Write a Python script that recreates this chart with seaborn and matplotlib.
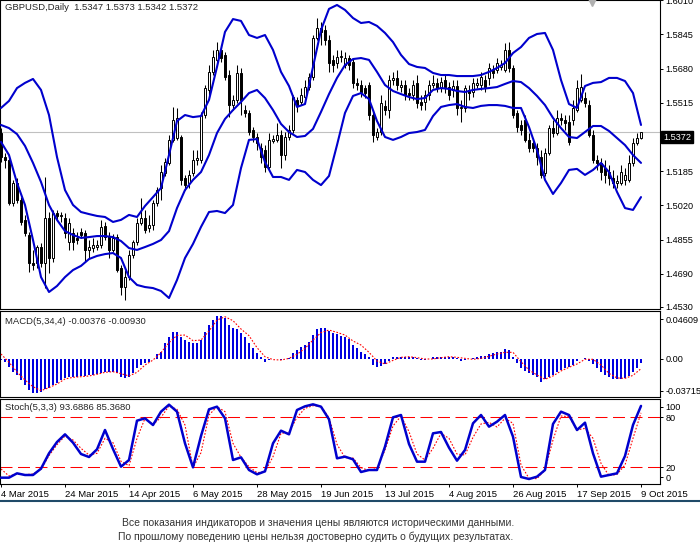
import numpy as np
import matplotlib
matplotlib.use('Agg')
import matplotlib.pyplot as plt
from matplotlib.lines import Line2D
import seaborn as sns

sns.set_style('white')
plt.rcParams['font.family'] = ['Liberation Sans', 'DejaVu Sans']

# ---- GBPUSD daily candles ----
opens = [1.5369, 1.5253, 1.5239, 1.5032, 1.5128, 1.5046, 1.4950, 1.4877, 1.4742, 1.4742,
         1.4819, 1.4742, 1.4959, 1.4766, 1.4983, 1.4969, 1.4959, 1.4843, 1.4887, 1.4863,
         1.4892, 1.4887, 1.4805, 1.4814, 1.4819, 1.4829, 1.4921, 1.4872, 1.4805, 1.4867,
         1.4718, 1.4626, 1.4674, 1.4781, 1.4843, 1.4935, 1.4959, 1.4911, 1.4925, 1.5032,
         1.5104, 1.5176, 1.5225, 1.5336, 1.5345, 1.5350, 1.5152, 1.5128, 1.5176, 1.5239,
         1.5239, 1.5456, 1.5577, 1.5664, 1.5722, 1.5770, 1.5746, 1.5649, 1.5504, 1.5529,
         1.5659, 1.5480, 1.5466, 1.5384, 1.5350, 1.5297, 1.5287, 1.5205, 1.5331, 1.5336,
         1.5360, 1.5263, 1.5350, 1.5384, 1.5529, 1.5519, 1.5543, 1.5591, 1.5639, 1.5828,
         1.5876, 1.5866, 1.5818, 1.5722, 1.5707, 1.5736, 1.5697, 1.5731, 1.5712, 1.5611,
         1.5601, 1.5586, 1.5601, 1.5456, 1.5350, 1.5374, 1.5500, 1.5480, 1.5625, 1.5635,
         1.5591, 1.5601, 1.5562, 1.5553, 1.5611, 1.5519, 1.5519, 1.5553, 1.5601, 1.5611,
         1.5586, 1.5625, 1.5591, 1.5577, 1.5596, 1.5490, 1.5490, 1.5577, 1.5567, 1.5601,
         1.5601, 1.5625, 1.5635, 1.5673, 1.5673, 1.5688, 1.5673, 1.5770, 1.5683, 1.5466,
         1.5408, 1.5432, 1.5336, 1.5321, 1.5297, 1.5253, 1.5176, 1.5273, 1.5393, 1.5369,
         1.5442, 1.5432, 1.5422, 1.5432, 1.5480, 1.5529, 1.5538, 1.5504, 1.5360, 1.5239,
         1.5225, 1.5200, 1.5181, 1.5152, 1.5128, 1.5128, 1.5143, 1.5143, 1.5225, 1.5321,
         1.5347]
highs = [1.5393, 1.5273, 1.5249, 1.5143, 1.5152, 1.5060, 1.4974, 1.4892, 1.4805, 1.4829,
         1.4839, 1.5157, 1.4988, 1.4998, 1.4998, 1.4988, 1.4983, 1.4959, 1.4911, 1.4892,
         1.4911, 1.4901, 1.4853, 1.4863, 1.4853, 1.4950, 1.4940, 1.4892, 1.4882, 1.4882,
         1.4732, 1.4708, 1.4805, 1.4853, 1.4959, 1.5056, 1.4998, 1.4974, 1.5046, 1.5109,
         1.5215, 1.5249, 1.5360, 1.5495, 1.5490, 1.5360, 1.5167, 1.5191, 1.5287, 1.5287,
         1.5471, 1.5601, 1.5697, 1.5770, 1.5808, 1.5794, 1.5760, 1.5673, 1.5553, 1.5697,
         1.5683, 1.5504, 1.5480, 1.5398, 1.5369, 1.5321, 1.5311, 1.5369, 1.5360, 1.5418,
         1.5384, 1.5374, 1.5408, 1.5553, 1.5543, 1.5586, 1.5625, 1.5659, 1.5842, 1.5924,
         1.5905, 1.5890, 1.5842, 1.5746, 1.5770, 1.5770, 1.5760, 1.5746, 1.5731, 1.5635,
         1.5625, 1.5601, 1.5615, 1.5480, 1.5393, 1.5553, 1.5529, 1.5649, 1.5664, 1.5673,
         1.5625, 1.5625, 1.5586, 1.5625, 1.5649, 1.5553, 1.5577, 1.5625, 1.5649, 1.5635,
         1.5639, 1.5649, 1.5615, 1.5625, 1.5625, 1.5529, 1.5601, 1.5601, 1.5635, 1.5635,
         1.5664, 1.5649, 1.5707, 1.5697, 1.5731, 1.5722, 1.5804, 1.5808, 1.5697, 1.5480,
         1.5432, 1.5456, 1.5369, 1.5345, 1.5321, 1.5287, 1.5297, 1.5408, 1.5432, 1.5480,
         1.5466, 1.5456, 1.5456, 1.5529, 1.5625, 1.5654, 1.5567, 1.5529, 1.5384, 1.5263,
         1.5249, 1.5239, 1.5215, 1.5191, 1.5167, 1.5215, 1.5200, 1.5263, 1.5345, 1.5369,
         1.5373]
lows = [1.5229, 1.5200, 1.5022, 1.5017, 1.5032, 1.4925, 1.4872, 1.4699, 1.4708, 1.4718,
        1.4723, 1.4621, 1.4694, 1.4747, 1.4950, 1.4940, 1.4863, 1.4805, 1.4805, 1.4834,
        1.4863, 1.4747, 1.4766, 1.4795, 1.4805, 1.4814, 1.4853, 1.4766, 1.4795, 1.4699,
        1.4588, 1.4564, 1.4660, 1.4766, 1.4829, 1.4925, 1.4887, 1.4892, 1.4901, 1.5017,
        1.5046, 1.5162, 1.5215, 1.5326, 1.5336, 1.5118, 1.5094, 1.5104, 1.5162, 1.5215,
        1.5225, 1.5442, 1.5553, 1.5649, 1.5712, 1.5712, 1.5625, 1.5446, 1.5480, 1.5514,
        1.5456, 1.5446, 1.5360, 1.5326, 1.5287, 1.5225, 1.5181, 1.5191, 1.5321, 1.5326,
        1.5200, 1.5239, 1.5336, 1.5369, 1.5471, 1.5504, 1.5529, 1.5577, 1.5625, 1.5818,
        1.5794, 1.5794, 1.5664, 1.5664, 1.5683, 1.5712, 1.5683, 1.5673, 1.5586, 1.5577,
        1.5543, 1.5538, 1.5432, 1.5326, 1.5336, 1.5360, 1.5456, 1.5442, 1.5601, 1.5577,
        1.5567, 1.5529, 1.5529, 1.5529, 1.5490, 1.5480, 1.5480, 1.5529, 1.5586, 1.5567,
        1.5567, 1.5562, 1.5529, 1.5543, 1.5456, 1.5422, 1.5471, 1.5529, 1.5543, 1.5586,
        1.5577, 1.5567, 1.5601, 1.5635, 1.5659, 1.5673, 1.5664, 1.5664, 1.5442, 1.5374,
        1.5360, 1.5326, 1.5278, 1.5278, 1.5215, 1.5152, 1.5162, 1.5263, 1.5350, 1.5360,
        1.5408, 1.5384, 1.5311, 1.5408, 1.5471, 1.5519, 1.5495, 1.5350, 1.5225, 1.5191,
        1.5143, 1.5128, 1.5118, 1.5104, 1.5104, 1.5118, 1.5118, 1.5133, 1.5210, 1.5311,
        1.5342]
closes = [1.5253, 1.5239, 1.5032, 1.5128, 1.5046, 1.4940, 1.4887, 1.4742, 1.4732, 1.4819,
          1.4742, 1.4959, 1.4766, 1.4983, 1.4969, 1.4974, 1.4887, 1.4935, 1.4843, 1.4853,
          1.4877, 1.4805, 1.4819, 1.4829, 1.4829, 1.4916, 1.4867, 1.4805, 1.4863, 1.4708,
          1.4626, 1.4674, 1.4781, 1.4843, 1.4935, 1.4959, 1.4901, 1.4925, 1.5032, 1.5094,
          1.5181, 1.5229, 1.5336, 1.5432, 1.5442, 1.5143, 1.5118, 1.5167, 1.5239, 1.5249,
          1.5456, 1.5586, 1.5664, 1.5736, 1.5770, 1.5731, 1.5639, 1.5504, 1.5529, 1.5659,
          1.5529, 1.5466, 1.5374, 1.5350, 1.5321, 1.5253, 1.5205, 1.5336, 1.5340, 1.5360,
          1.5263, 1.5350, 1.5384, 1.5543, 1.5504, 1.5553, 1.5591, 1.5639, 1.5828, 1.5876,
          1.5857, 1.5818, 1.5707, 1.5697, 1.5736, 1.5741, 1.5731, 1.5697, 1.5611, 1.5601,
          1.5567, 1.5562, 1.5456, 1.5360, 1.5374, 1.5514, 1.5480, 1.5625, 1.5635, 1.5601,
          1.5601, 1.5553, 1.5553, 1.5601, 1.5514, 1.5504, 1.5553, 1.5601, 1.5611, 1.5586,
          1.5615, 1.5591, 1.5553, 1.5596, 1.5490, 1.5495, 1.5586, 1.5562, 1.5611, 1.5611,
          1.5639, 1.5591, 1.5683, 1.5659, 1.5707, 1.5697, 1.5770, 1.5683, 1.5456, 1.5398,
          1.5384, 1.5336, 1.5297, 1.5297, 1.5253, 1.5167, 1.5273, 1.5393, 1.5369, 1.5442,
          1.5432, 1.5418, 1.5326, 1.5490, 1.5586, 1.5591, 1.5514, 1.5360, 1.5239, 1.5225,
          1.5181, 1.5167, 1.5152, 1.5128, 1.5138, 1.5181, 1.5167, 1.5225, 1.5321, 1.5345,
          1.5372]

# Bollinger bands, read every second bar
bb_upper = [1.5490, 1.5524, 1.5586, 1.5611, 1.5630, 1.5577, 1.5456, 1.5253, 1.5094, 1.5022,
            1.4988, 1.4978, 1.4969, 1.4964, 1.4940, 1.4950, 1.4974, 1.4964, 1.5017, 1.5060,
            1.5104, 1.5263, 1.5427, 1.5456, 1.5446, 1.5451, 1.5529, 1.5688, 1.5857, 1.5919,
            1.5910, 1.5842, 1.5828, 1.5842, 1.5770, 1.5664, 1.5596, 1.5495, 1.5509, 1.5688,
            1.5866, 1.5968, 1.5987, 1.5963, 1.5924, 1.5900, 1.5905, 1.5886, 1.5852, 1.5808,
            1.5746, 1.5702, 1.5688, 1.5683, 1.5659, 1.5649, 1.5649, 1.5644, 1.5644, 1.5644,
            1.5649, 1.5664, 1.5683, 1.5707, 1.5755, 1.5784, 1.5828, 1.5847, 1.5852, 1.5770,
            1.5625, 1.5509, 1.5490, 1.5596, 1.5611, 1.5615, 1.5635, 1.5635, 1.5620, 1.5562,
            1.5408]
bb_middle = [1.5408, 1.5393, 1.5364, 1.5307, 1.5225, 1.5133, 1.5022, 1.4950, 1.4896, 1.4877,
             1.4863, 1.4867, 1.4872, 1.4872, 1.4867, 1.4848, 1.4814, 1.4805, 1.4819, 1.4834,
             1.4853, 1.4896, 1.5007, 1.5094, 1.5143, 1.5181, 1.5263, 1.5369, 1.5437, 1.5480,
             1.5519, 1.5562, 1.5577, 1.5538, 1.5480, 1.5413, 1.5374, 1.5350, 1.5355, 1.5389,
             1.5471, 1.5557, 1.5635, 1.5697, 1.5726, 1.5731, 1.5722, 1.5664, 1.5601, 1.5572,
             1.5557, 1.5543, 1.5533, 1.5538, 1.5577, 1.5586, 1.5582, 1.5572, 1.5567, 1.5577,
             1.5582, 1.5586, 1.5591, 1.5606, 1.5620, 1.5615, 1.5586, 1.5548, 1.5504, 1.5442,
             1.5393, 1.5350, 1.5345, 1.5374, 1.5403, 1.5403, 1.5379, 1.5345, 1.5311, 1.5263,
             1.5225]
bb_lower = [1.5326, 1.5263, 1.5128, 1.5022, 1.4853, 1.4674, 1.4602, 1.4631, 1.4674, 1.4708,
            1.4728, 1.4761, 1.4776, 1.4785, 1.4790, 1.4766, 1.4674, 1.4636, 1.4626, 1.4621,
            1.4607, 1.4573, 1.4660, 1.4766, 1.4834, 1.4916, 1.4988, 1.4993, 1.4983, 1.5022,
            1.5200, 1.5336, 1.5340, 1.5229, 1.5157, 1.5157, 1.5143, 1.5191, 1.5181, 1.5143,
            1.5118, 1.5162, 1.5311, 1.5466, 1.5548, 1.5562, 1.5533, 1.5427, 1.5350, 1.5336,
            1.5350, 1.5369, 1.5374, 1.5384, 1.5451, 1.5495, 1.5504, 1.5509, 1.5495, 1.5490,
            1.5500, 1.5504, 1.5504, 1.5500, 1.5490, 1.5490, 1.5398, 1.5287, 1.5143, 1.5075,
            1.5128, 1.5191, 1.5196, 1.5167, 1.5191, 1.5225, 1.5181, 1.5085, 1.5007, 1.4998,
            1.5060]

# MACD(5,34,4)
macd_hist = [-0.0008, -0.0026, -0.0074, -0.0122, -0.0154, -0.0202, -0.0250, -0.0298, -0.0323, -0.0330,
             -0.0314, -0.0291, -0.0282, -0.0250, -0.0227, -0.0202, -0.0186, -0.0176, -0.0170, -0.0170,
             -0.0163, -0.0163, -0.0154, -0.0154, -0.0144, -0.0131, -0.0122, -0.0122, -0.0122, -0.0131,
             -0.0170, -0.0186, -0.0170, -0.0131, -0.0090, -0.0058, -0.0042, -0.0026, -0.0003, 0.0048,
             0.0070, 0.0150, 0.0214, 0.0262, 0.0262, 0.0214, 0.0182, 0.0166, 0.0157, 0.0157,
             0.0182, 0.0262, 0.0326, 0.0374, 0.0413, 0.0413, 0.0390, 0.0326, 0.0294, 0.0285,
             0.0246, 0.0214, 0.0150, 0.0102, 0.0054, 0.0022, -0.0026, -0.0010, 0.0003, -0.0003,
             -0.0010, 0.0002, 0.0006, 0.0054, 0.0086, 0.0112, 0.0134, 0.0166, 0.0230, 0.0285,
             0.0294, 0.0294, 0.0272, 0.0253, 0.0240, 0.0221, 0.0208, 0.0189, 0.0134, 0.0102,
             0.0070, 0.0048, 0.0022, -0.0058, -0.0074, -0.0064, -0.0048, -0.0019, 0.0016, 0.0022,
             0.0022, 0.0016, 0.0016, 0.0016, 0.0006, -0.0010, -0.0010, 0.0003, 0.0016, 0.0022,
             0.0022, 0.0022, 0.0016, 0.0016, 0.0006, -0.0016, -0.0010, -0.0003, 0.0006, 0.0016,
             0.0032, 0.0029, 0.0048, 0.0061, 0.0064, 0.0070, 0.0093, 0.0086, 0.0016, -0.0035,
             -0.0083, -0.0112, -0.0131, -0.0154, -0.0176, -0.0218, -0.0195, -0.0176, -0.0154, -0.0128,
             -0.0106, -0.0090, -0.0074, -0.0058, -0.0016, 0.0003, 0.0006, -0.0016, -0.0048, -0.0090,
             -0.0122, -0.0154, -0.0176, -0.0192, -0.0195, -0.0192, -0.0186, -0.0160, -0.0128, -0.0090,
             -0.00376]
macd_signal = [0.0048, -0.0032, -0.0125, -0.0202, -0.0266, -0.0304, -0.0275, -0.0240, -0.0192, -0.0176,
               -0.0170, -0.0163, -0.0147, -0.0128, -0.0122, -0.0141, -0.0163, -0.0128, -0.0058, -0.0010,
               0.0061, 0.0157, 0.0227, 0.0230, 0.0176, 0.0182, 0.0269, 0.0374, 0.0406, 0.0368,
               0.0288, 0.0224, 0.0109, 0.0022, -0.0006, -0.0010, 0.0006, 0.0045, 0.0102, 0.0182,
               0.0253, 0.0278, 0.0256, 0.0230, 0.0173, 0.0134, 0.0064, -0.0019, -0.0048, -0.0013,
               0.0016, 0.0022, 0.0013, 0.0000, 0.0000, 0.0013, 0.0022, 0.0016, 0.0006, -0.0003,
               0.0006, 0.0026, 0.0048, 0.0064, 0.0064, -0.0026, -0.0106, -0.0154, -0.0195, -0.0163,
               -0.0115, -0.0080, -0.0048, -0.0003, -0.0003, -0.0058, -0.0138, -0.0182, -0.0186, -0.0157,
               -0.0093]

# Stochastic(5,3,3), every second bar
stoch_main = [7.6, 7.6, 12.8, 10.8, 10.8, 18.4, 36.8, 50.4, 59.6, 49.6,
              36.0, 32.4, 41.6, 64.8, 42.0, 20.8, 28.8, 76.0, 78.8, 70.8,
              86.8, 95.2, 86.8, 48.8, 20.0, 57.6, 89.6, 92.8, 78.8, 28.8,
              32.0, 16.8, 11.6, 15.2, 48.8, 64.0, 59.6, 88.8, 93.2, 95.6,
              92.8, 77.6, 30.8, 32.8, 29.6, 14.4, 16.8, 16.8, 44.8, 80.0,
              82.8, 48.0, 26.8, 26.8, 60.8, 62.4, 43.6, 28.0, 40.8, 72.8,
              82.8, 68.8, 74.8, 82.8, 56.8, 8.4, 6.0, 8.8, 16.8, 72.0,
              86.8, 82.8, 64.8, 73.6, 36.8, 8.8, 10.8, 12.8, 33.6, 70.8,
              93.6886]
stoch_signal = [18.0, 9.6, 12.0, 11.2, 12.0, 17.6, 34.0, 47.2, 57.6, 52.8,
                42.8, 34.8, 36.8, 54.8, 49.6, 27.2, 22.0, 54.8, 78.8, 71.2,
                80.0, 93.6, 89.6, 70.8, 19.6, 37.6, 82.8, 92.8, 86.8, 48.8,
                32.0, 20.8, 13.6, 14.8, 32.8, 60.8, 62.0, 80.0, 90.8, 94.0,
                93.2, 79.6, 47.6, 31.6, 31.2, 19.6, 16.0, 18.8, 40.8, 69.6,
                81.6, 62.8, 36.0, 28.8, 42.8, 60.8, 54.8, 36.0, 34.8, 56.0,
                72.0, 74.0, 68.4, 78.8, 72.8, 22.8, 6.8, 6.4, 16.8, 52.8,
                81.6, 80.8, 64.8, 66.8, 54.8, 24.8, 10.0, 11.6, 22.8, 54.8,
                85.368]

date_labels = ['4 Mar 2015', '24 Mar 2015', '14 Apr 2015', '6 May 2015', '28 May 2015',
               '19 Jun 2015', '13 Jul 2015', '4 Aug 2015', '26 Aug 2015', '17 Sep 2015',
               '9 Oct 2015']
price_ticks = [1.6010, 1.5845, 1.5680, 1.5515, 1.5350, 1.5185, 1.5020, 1.4855, 1.4690, 1.4530]
bid = 1.5372

blue = '#0000cd'
bars = np.arange(len(closes))
band_bars = bars[::2]
label_bars = bars[::16]

W, H = 700, 552
fig = plt.figure(figsize=(W / 100, H / 100), dpi=100)
fig.patch.set_facecolor('white')

def px_axes(top, bottom):
    return fig.add_axes([0, 1 - bottom / H, 660 / W, (bottom - top) / H])

ax_p = px_axes(0, 309)
ax_m = px_axes(311, 397)
ax_s = px_axes(399, 484)

for ax in (ax_p, ax_m, ax_s):
    ax.set_xlim(-0.25, 164.75)
    for sp in ax.spines.values():
        sp.set_color('black')
        sp.set_linewidth(0.8)
    ax.yaxis.tick_right()
    ax.tick_params(axis='y', direction='out', length=2.5, width=0.7, pad=1.2,
                   labelsize=6.6, colors='black', left=False, right=True)
    ax.grid(False)

# ---- price panel ----
ax_p.set_ylim(1.4520, 1.6011)
ax_p.axhline(bid, color='#c0c0c0', lw=0.8, zorder=1)
o = np.array(opens); c = np.array(closes)
ax_p.vlines(bars, lows, highs, color='black', lw=0.75, zorder=2)
body_lo = np.minimum(o, c)
body_h = np.maximum(np.abs(c - o), 0.00022)
faces = np.where(c >= o, 'white', 'black')
ax_p.bar(bars, body_h, bottom=body_lo, width=0.72, color=faces,
         edgecolor='black', linewidth=0.7, zorder=3)
for band in (bb_upper, bb_middle, bb_lower):
    sns.lineplot(x=band_bars, y=band, ax=ax_p, color=blue, linewidth=1.5, zorder=4)
ax_p.set_yticks(price_ticks)
ax_p.set_yticklabels([f'{t:.4f}' for t in price_ticks])
ax_p.set_xticks([])
ax_p.text(5 / 660, 1 - 8 / 309, 'GBPUSD,Daily  1.5347 1.5373 1.5342 1.5372',
          transform=ax_p.transAxes, fontsize=6.8, va='center', ha='left')
ax_p.plot([147.75], [1.6007], marker='v', color='#b0b0b0', markersize=7,
          clip_on=False, zorder=6)

# ---- MACD panel ----
ax_m.set_ylim(-0.0365, 0.0461)
ax_m.bar(bars, macd_hist, width=0.72, color='#0000e0', linewidth=0, zorder=2)
sns.lineplot(x=band_bars, y=macd_signal, ax=ax_m, color='red', linewidth=0.8,
             linestyle=(0, (1.5, 1.5)), zorder=3)
ax_m.set_yticks([0.0384, 0.0, -0.0307])
ax_m.set_yticklabels(['0.04609', '0.00', '-0.03715'])
ax_m.set_xticks([])
ax_m.text(5 / 660, 1 - 10 / 86, 'MACD(5,34,4) -0.00376 -0.00930',
          transform=ax_m.transAxes, fontsize=6.8, va='center', ha='left')

# ---- Stochastic panel ----
ax_s.set_ylim(0, 102)
for lvl in (80, 20):
    ax_s.axhline(lvl, color='#ff0000', lw=0.75, linestyle=(0, (11.5, 5.3)), zorder=1)
sns.lineplot(x=band_bars, y=stoch_signal, ax=ax_s, color='red', linewidth=0.8,
             linestyle=(0, (1.5, 1.5)), zorder=2)
sns.lineplot(x=band_bars, y=stoch_main, ax=ax_s, color=blue, linewidth=1.8, zorder=3)
ax_s.set_yticks([92.7, 80, 20, 8])
ax_s.set_yticklabels(['100', '80', '20', '0'])
ax_s.set_xticks(label_bars)
ax_s.set_xticklabels(date_labels, ha='left')
ax_s.tick_params(axis='x', direction='out', length=2.5, width=0.7, pad=1.5,
                 labelsize=6.8, colors='black', bottom=True)
ax_s.text(5 / 660, 1 - 9 / 85, 'Stoch(5,3,3) 93.6886 85.3680',
          transform=ax_s.transAxes, fontsize=6.8, va='center', ha='left')

for ax in (ax_p, ax_m, ax_s):
    ax.set_xlabel('')
    ax.set_ylabel('')

# current price box on the right scale
fig.text(663 / W, 1 - 137 / H, '1.5372', color='white', fontsize=6.6,
         va='center', ha='left',
         bbox=dict(boxstyle='square,pad=0.2', fc='black', ec='black'), zorder=10)

# footer
fig.add_artist(Line2D([0, 1], [1 - 501 / H] * 2, transform=fig.transFigure,
                      color='#1f4a68', lw=1.5))
fig.text(318 / W, 1 - 523 / H,
         'Все показания индикаторов и значения цены являются историческими данными.',
         ha='center', va='center', fontsize=7.5, color='#333333')
fig.text(316 / W, 1 - 537 / H,
         'По прошлому поведению цены нельзя достоверно судить о будущих результатах.',
         ha='center', va='center', fontsize=7.5, color='#333333')

fig.savefig('out.png', dpi=100, facecolor='white')
